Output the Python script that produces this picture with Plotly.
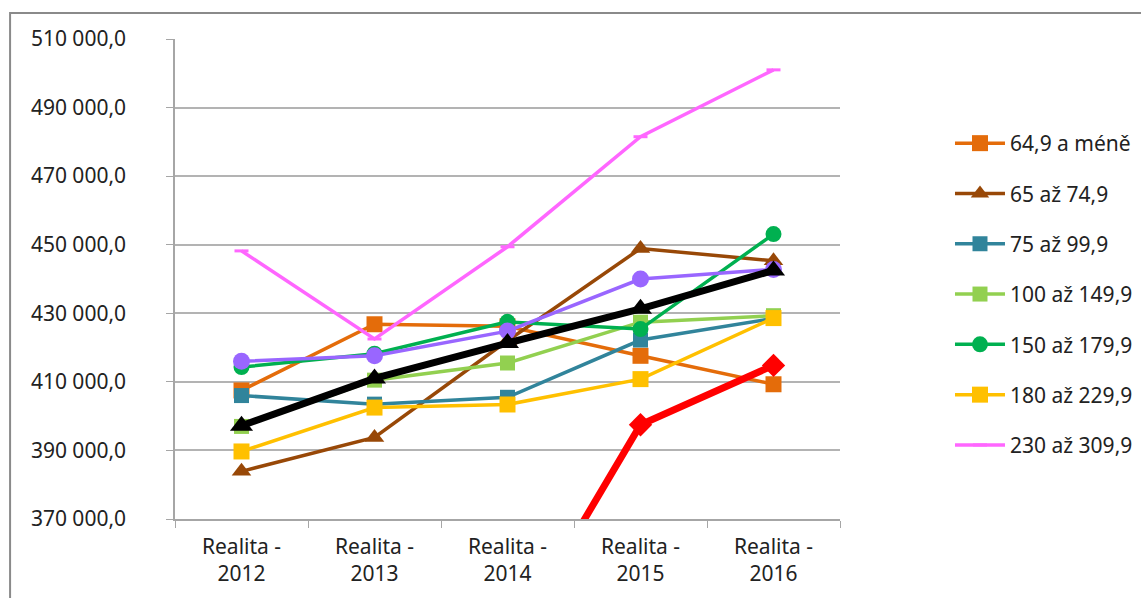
import plotly.graph_objects as go

categories = ["Realita -<br>2012", "Realita -<br>2013", "Realita -<br>2014", "Realita -<br>2015", "Realita -<br>2016"]

s_64 = [407500, 426800, 426200, 417600, 409300]
s_65 = [383900, 393800, 422000, 448900, 445300]
s_75 = [406000, 403500, 405500, 422200, 428500]
s_100 = [397000, 410500, 415500, 427400, 429300]
s_150 = [414300, 418200, 427500, 425400, 453100]
s_180 = [389700, 402500, 403400, 410800, 428600]
s_230 = [448200, 422500, 449400, 481500, 501000]
s_purple = [416000, 417600, 424800, 440000, 442800]
s_black = [397200, 411000, 421300, 431300, 442500]
s_red = [None, None, 332000, 397500, 414800]

series = [
    ("64,9 a méně", s_64, "#E46C0A", "square", 3.5, 16, True),
    ("65 až 74,9", s_65, "#984807", "triangle-up", 3.5, 17, True),
    ("75 až 99,9", s_75, "#31849B", "square", 3.5, 15, True),
    ("100 až 149,9", s_100, "#92D050", "square", 3.5, 15, True),
    ("150 až 179,9", s_150, "#00B050", "circle", 3.5, 16, True),
    ("180 až 229,9", s_180, "#FFC000", "square", 3.5, 16, True),
    ("230 až 309,9", s_230, "#FF66FF", "line-ew", 3.5, 10, True),
    ("", s_purple, "#9966FF", "circle", 3.5, 17, False),
    ("", s_red, "#FF0000", "diamond", 7, 18, False),
    ("", s_black, "#000000", "triangle-up", 7, 20, False),
]

fig = go.Figure()
for i, (name, vals, color, sym, lw, ms, show) in enumerate(series):
    marker = dict(symbol=sym, size=ms, color=color)
    if sym == "line-ew":
        marker = dict(symbol=sym, size=ms, color=color, line=dict(color=color, width=3))
    fig.add_trace(go.Scatter(
        x=categories, y=vals, name=name, mode="lines+markers",
        line=dict(color=color, width=lw), marker=marker,
        showlegend=show, legendgroup="g%d" % i,
    ))

fig.update_layout(
    width=1141, height=598,
    margin=dict(l=175, r=301, t=39, b=79, autoexpand=False),
    paper_bgcolor="white", plot_bgcolor="white",
    separators=", ",
    font=dict(family="Noto Sans", size=21, color="#222222"),
    legend=dict(x=1.1654, y=0.825, xanchor="left", yanchor="top",
                traceorder="grouped", tracegroupgap=20, itemwidth=50,
                maxheight=500,
                font=dict(size=21, color="#222222"), bgcolor="rgba(0,0,0,0)"),
    shapes=[dict(type="rect", xref="paper", yref="paper",
                 x0=-0.248, x1=1.6, y0=-0.4, y1=1.054,
                 line=dict(color="#8a8a8a", width=2), layer="below")],
)
fig.update_yaxes(range=[370000, 510000], dtick=20000, tick0=370000,
                 tickformat=",.1f", showgrid=True, gridcolor="#b3b3b3", gridwidth=1.5,
                 showline=True, linecolor="#a6a6a6", linewidth=1.5,
                 ticks="outside", ticklen=7, tickcolor="#a6a6a6",
                 ticklabelstandoff=36, zeroline=False)
fig.update_xaxes(showgrid=False, showline=True, linecolor="#a6a6a6", linewidth=1.5,
                 ticks="outside", ticklen=7, tickcolor="#a6a6a6", tickson="boundaries",
                 ticklabelstandoff=8, range=[-0.5, 4.5])

fig.write_html("out.html")
